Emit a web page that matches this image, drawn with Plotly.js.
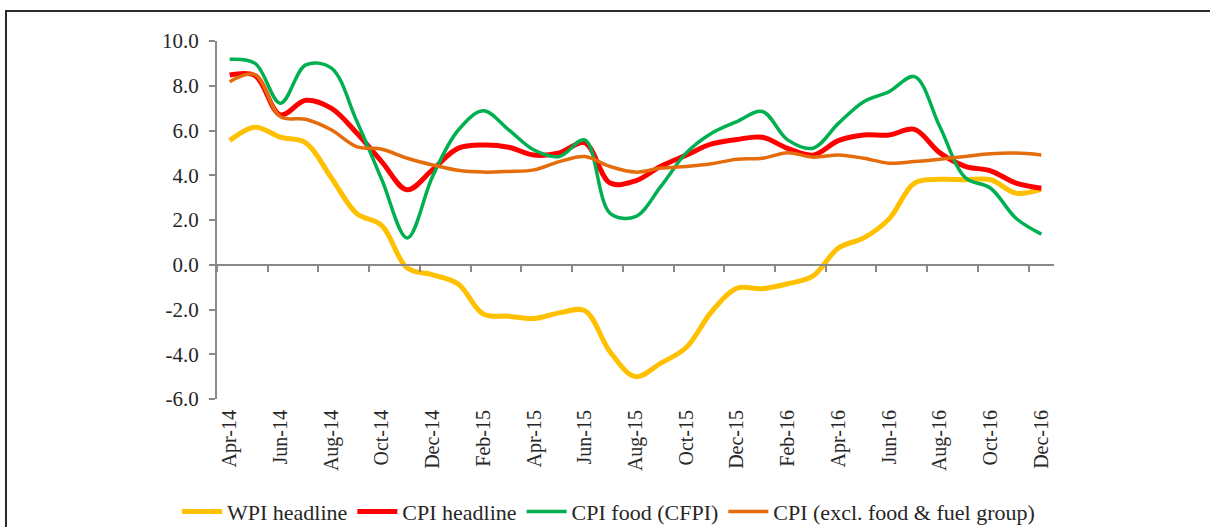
<!DOCTYPE html>
<html>
<head>
<meta charset="utf-8">
<script src="https://cdn.plot.ly/plotly-3.0.1.min.js"></script>
<style>
  html, body { margin: 0; padding: 0; background: #fff; overflow: hidden; }
  #wrap { position: relative; width: 1210px; height: 527px; }
  #chart { position: absolute; left: 0; top: 0; width: 1210px; height: 527px; }
  #frame { position: absolute; left: 5px; top: 10px; width: 1300px; height: 700px;
           border-left: 2px solid #2b2b2b; border-top: 2px solid #2b2b2b; pointer-events: none; }
</style>
</head>
<body>
<div id="wrap"><div id="chart"></div><div id="frame"></div></div>
<script>
const months = ['Apr-14','May-14','Jun-14','Jul-14','Aug-14','Sep-14','Oct-14','Nov-14','Dec-14',
  'Jan-15','Feb-15','Mar-15','Apr-15','May-15','Jun-15','Jul-15','Aug-15','Sep-15','Oct-15','Nov-15','Dec-15',
  'Jan-16','Feb-16','Mar-16','Apr-16','May-16','Jun-16','Jul-16','Aug-16','Sep-16','Oct-16','Nov-16','Dec-16'];

const wpiHeadline = [5.55, 6.15, 5.7, 5.45, 3.9, 2.3, 1.75, -0.15, -0.45, -0.85, -2.2, -2.3, -2.4, -2.15, -2.05,
  -3.9, -5.0, -4.4, -3.7, -2.1, -1.05, -1.07, -0.85, -0.5, 0.75, 1.2, 2.05, 3.65, 3.82, 3.8, 3.8, 3.2, 3.38];
const cpiHeadline = [8.48, 8.45, 6.7, 7.35, 7.0, 5.9, 4.6, 3.35, 4.25, 5.2, 5.35, 5.25, 4.9, 5.0, 5.45,
  3.65, 3.75, 4.4, 4.9, 5.4, 5.6, 5.7, 5.2, 4.9, 5.55, 5.8, 5.8, 6.05, 5.0, 4.4, 4.2, 3.65, 3.42];
const cpiFood = [9.18, 9.0, 7.22, 8.93, 8.8, 6.45, 3.8, 1.2, 3.95, 6.0, 6.88, 6.03, 5.13, 4.84, 5.58,
  2.3, 2.15, 3.5, 5.0, 5.88, 6.4, 6.85, 5.58, 5.21, 6.32, 7.29, 7.74, 8.41, 6.17, 3.9, 3.42, 2.08, 1.37];
const cpiCore = [8.18, 8.5, 6.62, 6.5, 6.03, 5.28, 5.16, 4.76, 4.46, 4.22, 4.14, 4.17, 4.24, 4.61, 4.84,
  4.39, 4.14, 4.32, 4.39, 4.51, 4.72, 4.76, 5.01, 4.81, 4.91, 4.76, 4.54, 4.61, 4.72, 4.84, 4.96, 4.99, 4.91];

const seriesNames = ['WPI headline', 'CPI headline', 'CPI food (CFPI)', 'CPI (excl. food & fuel group)'];
const yTickVals = [-6, -4, -2, 0, 2, 4, 6, 8, 10];
const yTickText = ['-6.0', '-4.0', '-2.0', '0.0', '2.0', '4.0', '6.0', '8.0', '10.0'];
const xTickLabels = months.filter((m, i) => i % 2 === 0);

const FONT = '"Liberation Serif", "Times New Roman", serif';
const AXIS = '#898989';

function line(name, y, color, width) {
  return { type: 'scatter', mode: 'lines', name: name, x: months, y: y,
    line: { color: color, width: width, shape: 'spline', smoothing: 1 }, hoverinfo: 'x+y' };
}

const traces = [
  line(seriesNames[0], wpiHeadline, '#FFC000', 5),
  line(seriesNames[1], cpiHeadline, '#FF0000', 5),
  line(seriesNames[2], cpiFood, '#00B050', 3.5),
  line(seriesNames[3], cpiCore, '#E46C0A', 3.5),
  { type: 'scatter', mode: 'lines', x: [0], y: [null], xaxis: 'x2', yaxis: 'y', showlegend: false, hoverinfo: 'skip' }
];

const layout = {
  width: 1210, height: 527,
  margin: { l: 217, r: 156, t: 41, b: 128, pad: 0, autoexpand: false },
  paper_bgcolor: '#fff', plot_bgcolor: '#fff',
  font: { family: FONT, color: '#262626', size: 20 },
  showlegend: true,
  legend: { orientation: 'h', xref: 'paper', x: -0.0478, xanchor: 'left', yref: 'paper', y: -0.315, yanchor: 'middle',
    itemwidth: 40,
    font: { family: FONT, size: 22, color: '#262626' }, bgcolor: 'rgba(0,0,0,0)', tracegroupgap: 0 },
  xaxis: {
    type: 'category', range: [-0.5, 32.5], tickmode: 'array', tickvals: xTickLabels, ticktext: xTickLabels,
    tickangle: -90, ticks: '', showline: false, showgrid: false, zeroline: false, automargin: false,
    ticklabelstandoff: 6, tickfont: { family: FONT, size: 20, color: '#262626' }, fixedrange: true
  },
  xaxis2: {
    type: 'linear', overlaying: 'x', anchor: 'free', position: 0.375, range: [-0.5, 32.5],
    tickmode: 'linear', tick0: -0.5, dtick: 2, ticks: 'outside', ticklen: 6, tickwidth: 2, tickcolor: AXIS,
    showticklabels: false, showline: true, linecolor: AXIS, linewidth: 2, showgrid: false, zeroline: false,
    automargin: false
  },
  yaxis: {
    range: [-6, 10], tickmode: 'array', tickvals: yTickVals, ticktext: yTickText,
    ticks: 'outside', ticklen: 6, tickwidth: 2, tickcolor: AXIS, showline: true, linecolor: AXIS, linewidth: 2,
    showgrid: false, zeroline: false, ticklabelstandoff: 6, automargin: false,
    tickfont: { family: FONT, size: 21, color: '#262626' }, fixedrange: true
  }
};

Plotly.newPlot('chart', traces, layout, { displayModeBar: false, staticPlot: true });
</script>
</body>
</html>
